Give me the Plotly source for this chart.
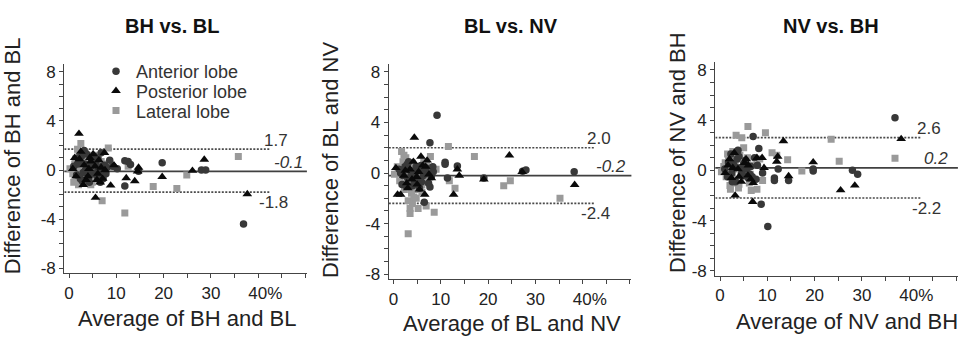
import plotly.graph_objects as go

W, H = 971, 354
FONT = "Liberation Sans, Arial, sans-serif"

# ---------------- data ----------------
titles = ["BH vs. BL", "BL vs. NV", "NV vs. BH"]
xtitles = ["Average of BH and BL", "Average of BL and NV", "Average of NV and BH"]
ytitles = ["Difference of BH and BL", "Difference of BL and NV", "Difference of NV and BH"]
series_names = ["Anterior lobe", "Posterior lobe", "Lateral lobe"]

mean_diff = [-0.1, -0.2, 0.2]
upper_loa = [1.7, 2.0, 2.6]
lower_loa = [-1.8, -2.4, -2.2]

x_tickvals = [0, 10, 20, 30, 40, 50]
x_ticktext = ["0", "10", "20", "30", "\u00a0\u00a0\u00a040%", ""]
x_minorvals = [5, 15, 25, 35, 45]
y_tickvals = [-8, -4, 0, 4, 8]
y_ticktext = ["-8", "-4", "0", "4", "8"]

# Panel 1: BH vs. BL
p1_ant_x = [1.0, 1.6, 2.2, 2.6, 2.8, 3.0, 3.3, 3.5, 3.7, 4.1, 4.3, 4.5, 4.8, 5.0, 5.2, 5.6, 5.8, 6.0, 6.3, 6.6,
            6.8, 7.0, 7.2, 7.5, 8.0, 8.6, 9.3, 10.2, 11.8, 12.5, 13.0, 11.8, 14.7, 19.7, 28.0, 28.9, 36.9,
            1.8, 2.4, 3.2, 3.9, 4.6, 5.4, 6.1, 6.5, 7.8, 2.0]
p1_ant_y = [0.3, -0.4, 0.8, 1.1, -0.9, -0.2, 0.5, 0.0, 1.3, -0.6, -1.0, 0.2, 0.9, 0.4, -0.3, 0.6, -0.2, -0.5, 0.1, -1.0,
            1.4, 0.3, -0.7, 0.4, 0.2, 0.8, 0.3, 0.1, 0.75, 0.7, 0.45, -1.3, -0.1, 0.6, 0.0, 0.0, -4.4,
            0.5, -0.7, 1.6, 0.3, -0.3, 1.1, 0.9, -0.4, -0.3, 1.0]
p1_post_x = [0.8, 1.5, 2.1, 2.2, 2.5, 3.2, 3.6, 4.0, 4.4, 4.6, 5.1, 5.5, 5.6, 6.1, 6.6, 6.8, 7.1, 7.5, 8.8, 9.5,
             12.1, 13.9, 14.5, 14.7, 19.7, 26.1, 28.6, 37.7,
             1.2, 3.0, 4.2, 5.9, 6.3, 7.6]
p1_post_y = [0.1, -0.5, 2.96, 0.9, 1.5, 0.4, -0.8, -0.5, 1.0, 0.7, 1.3, 0.3, -2.25, -0.3, -1.0, 0.2, -0.7, 1.4, -1.25, 0.4,
             -0.65, -0.9, -0.1, 0.2, -0.55, -0.05, 0.85, -1.95,
             1.0, -1.2, 0.1, -0.8, 0.8, 0.0]
p1_lat_x = [0.2, 0.8, 1.0, 1.2, 1.5, 1.8, 2.0, 2.2, 2.3, 2.5, 2.7, 3.0, 3.2, 3.4, 3.5, 3.8, 4.0, 4.3, 4.6, 4.8,
            5.0, 5.3, 5.8, 6.0, 6.2, 6.5, 7.0, 7.5, 8.3, 9.0, 11.8, 12.5, 17.8, 22.8, 24.9, 35.8,
            1.4, 1.9, 2.6, 2.9, 3.6, 4.1, 4.4, 5.5, 5.6, 6.8, 3.1, 2.1, 1.6, 4.9]
p1_lat_y = [0.1, -0.3, -1.0, 0.5, -0.8, 1.7, -1.2, 0.8, 0.3, 2.16, -0.5, 0.9, -1.1, 1.4, 0.2, -0.6, 1.2, -0.2, -1.2, 0.0,
            0.6, -0.7, 0.1, -0.3, 1.2, -0.4, -2.5, 0.5, 1.8, 0.2, -3.5, 0.3, -1.33, -1.5, -0.4, 1.1,
            0.9, -0.4, 0.6, -0.9, 1.0, -0.8, 0.5, 1.0, -0.2, 0.7, 0.1, 1.3, 0.2, -1.0]

# Panel 2: BL vs. NV
p2_ant_x = [1.2, 1.8, 2.0, 2.4, 3.0, 3.2, 3.5, 4.0, 4.4, 4.6, 5.2, 5.5, 5.8, 6.3, 6.5, 6.9, 7.0, 7.4, 7.7, 7.7,
            8.0, 8.4, 9.2, 10.9, 10.9, 11.4, 13.5, 19.1, 27.3, 28.0, 38.2,
            1.5, 2.6, 3.8, 4.8, 5.9, 6.1, 8.3, 2.9]
p2_ant_y = [0.3, -0.9, -0.2, 0.5, -0.4, 0.9, 0.2, -1.0, -0.6, 0.0, -0.5, -1.2, 0.6, -0.2, -2.3, 0.4, 0.0, -0.8, 2.4, -1.1,
            -0.3, 0.1, 4.57, 0.85, 0.7, -0.4, 0.55, -0.4, 0.15, 0.25, 0.1,
            0.0, -1.0, -0.2, 0.5, -0.7, 0.2, 0.5, 0.7]
p2_post_x = [0.5, 0.85, 1.5, 2.2, 2.8, 3.0, 3.5, 4.4, 4.9, 5.0, 5.5, 5.8, 6.2, 6.6, 6.8, 7.1, 7.5, 8.0, 12.7, 13.5,
             13.9, 19.1, 24.5, 27.2, 38.3,
             2.5, 3.9, 4.2, 5.3]
p2_post_y = [0.4, -1.7, -1.7, -0.2, -0.8, -1.2, 0.3, 2.8, -0.3, -0.9, -1.3, 1.3, 0.6, -1.7, 0.5, 1.0, -0.1, -0.4, -1.7, 0.3,
             -0.2, -0.5, 1.4, 0.1, -0.93,
             0.2, -0.5, 0.9, 0.1]
p2_lat_x = [0.2, 0.8, 1.3, 1.5, 1.7, 2.0, 2.3, 2.4, 2.6, 2.9, 3.1, 3.1, 3.3, 3.5, 3.5, 3.8, 4.0, 4.1, 4.4, 4.8,
            5.2, 5.2, 5.6, 6.0, 6.0, 6.4, 6.9, 7.3, 7.8, 8.6, 9.0, 11.6, 11.8, 13.0, 17.1, 23.3, 24.7, 35.2,
            1.0, 1.9, 2.7, 3.4, 3.9, 4.6, 5.4, 6.6, 7.0, 2.2, 4.3]
p2_lat_y = [-0.1, 0.5, -0.6, 0.0, 1.7, 0.9, -1.3, -0.8, 1.2, -0.4, -2.2, -4.8, 0.2, -2.8, -3.2, -1.6, -2.4, 0.6, -1.0, -2.0,
            -2.8, -0.3, 0.4, -1.5, -0.9, 0.9, -2.6, 0.1, 1.3, -3.1, 0.3, 2.1, -0.6, -1.2, 1.3, -1.0, -0.6, -2.0,
            0.2, -0.2, 0.4, -0.6, 0.8, -1.3, 0.2, -0.5, 0.6, 1.4, -1.9]

# Panel 3: NV vs. BH
p3_ant_x = [1.0, 1.6, 2.3, 2.5, 2.8, 3.3, 3.6, 3.8, 4.3, 4.9, 5.0, 5.4, 6.0, 6.3, 6.5, 7.0, 7.3, 7.6, 8.2, 8.7,
            9.0, 10.1, 11.5, 11.5, 12.3, 14.5, 19.7, 19.7, 28.0, 29.1, 37.0,
            1.8, 2.6, 3.1, 4.0, 4.6, 5.7, 6.8, 7.9]
p3_ant_y = [0.1, -0.5, 1.3, -0.2, 0.5, -0.9, 0.9, 1.6, 0.2, -0.4, 0.5, 0.8, -0.6, -0.3, 0.3, 2.7, 1.0, -0.7, 1.74, -2.7,
            -0.2, -4.46, -0.6, -0.8, 0.1, -0.8, 0.1, -0.05, 0.0, -0.3, 4.2,
            0.6, -0.9, 0.3, 1.1, -0.2, 0.1, -0.5, 0.4]
p3_post_x = [1.1, 1.7, 2.0, 2.4, 3.0, 3.2, 3.8, 4.5, 5.2, 5.9, 6.0, 6.9, 7.0, 7.8, 8.9, 9.3, 12.0, 12.2, 13.4, 14.5,
             19.7, 25.5, 28.5, 38.3,
             2.7, 4.0, 5.5, 6.5]
p3_post_y = [-0.2, 0.4, 0.9, -0.6, 1.4, -2.0, 0.1, -0.9, 0.6, -0.4, 0.4, -2.5, -1.0, 1.0, 1.0, 0.2, 0.7, 1.1, 2.33, -0.45,
             0.65, -1.58, -1.2, 2.5,
             0.2, -0.5, 0.9, -0.7]
p3_lat_x = [0.3, 0.8, 1.3, 1.6, 1.8, 2.0, 2.1, 2.4, 2.6, 2.7, 3.0, 3.2, 3.4, 3.6, 3.9, 4.0, 4.2, 4.6, 4.9, 5.0,
            5.3, 5.6, 5.9, 6.2, 6.7, 6.6, 7.8, 8.4, 9.0, 9.6, 11.0, 12.0, 14.3, 17.3, 23.5, 25.2, 37.0,
            1.1, 1.9, 2.3, 2.9, 3.3, 3.8, 4.4, 5.2, 5.8, 6.4, 2.2]
p3_lat_y = [-0.1, 0.3, -0.5, 1.3, 1.0, 0.0, -1.2, 0.6, -0.6, 1.5, -0.8, 0.5, 2.8, 0.2, -1.4, -1.1, 1.2, 2.6, -0.3, 1.8,
            0.7, -0.5, 3.5, -1.0, 0.4, -1.6, -1.5, 0.9, -0.8, 3.0, 1.4, 1.2, 0.85, -0.05, 2.47, 0.73, 0.96,
            0.6, -0.5, 1.1, 0.1, -1.0, 0.9, -0.4, 0.2, 1.0, -0.3, -1.5]

panels = [
    [(p1_ant_x, p1_ant_y), (p1_post_x, p1_post_y), (p1_lat_x, p1_lat_y)],
    [(p2_ant_x, p2_ant_y), (p2_post_x, p2_post_y), (p2_lat_x, p2_lat_y)],
    [(p3_ant_x, p3_ant_y), (p3_post_x, p3_post_y), (p3_lat_x, p3_lat_y)],
]

# ---------------- styling / layout ----------------
def fx(px):
    return px / W

def fy(py):
    return 1 - py / H

X_RANGE = [-1.0, 50.3]
Y_RANGE = [-8.4, 8.65]
LOA_END = 42.5
x_dom_px = [(64.3, 306.9), (388.8, 631.4), (715.3, 957.9)]
y_dom_px = [(63.9, 276.9), (63.7, 283.1), (61.8, 279.6)]
title_pos = [(171.7, 25.3), (510.8, 25.3), (830.8, 25.3)]
xtitle_pos = [(187.0, 322.5), (511.5, 328.5), (847.0, 326.0)]
ytitle_pos = [(12.5, 157.5), (331.0, 161.7), (677.5, 154.0)]
label_x = [(46.7, 49.9, 46.7), (46.4, 49.6, 46.2), (47.1, 48.6, 47.1)]

marker_styles = [
    dict(symbol="circle", size=7.5, color="#383838"),
    dict(symbol="triangle-up", size=8.5, color="#0a0a0a"),
    dict(symbol="square", size=7, color="#9a9a9a"),
]
draw_order = [2, 0, 1]
legend_ids = ["legend", "legend2", "legend3"]
legend_rows_py = [71.7, 91.7, 111.7]
AXIS_COLOR = "#444444"
TEXT_COLOR = "#222222"

fig = go.Figure()

for p in range(3):
    sfx = "" if p == 0 else str(p + 1)
    for s in draw_order:
        xs, ys = panels[p][s]
        fig.add_trace(go.Scatter(
            x=xs, y=ys, mode="markers", name=series_names[s],
            marker=dict(symbol=marker_styles[s]["symbol"], size=marker_styles[s]["size"],
                        color=marker_styles[s]["color"], line=dict(width=0)),
            xaxis="x" + sfx, yaxis="y" + sfx,
            showlegend=(p == 0), legend=legend_ids[s],
        ))

layout = dict(
    width=W, height=H, margin=dict(l=0, r=0, t=0, b=0),
    paper_bgcolor="white", plot_bgcolor="white",
    font=dict(family=FONT, color=TEXT_COLOR),
    shapes=[], annotations=[],
)

for p in range(3):
    sfx = "" if p == 0 else str(p + 1)
    x0, x1 = x_dom_px[p]
    yt, yb = y_dom_px[p]
    layout["xaxis" + sfx] = dict(
        domain=[fx(x0), fx(x1)], range=X_RANGE, anchor="y" + sfx,
        showgrid=False, zeroline=False, showline=True, linecolor=AXIS_COLOR, linewidth=1.3,
        tickmode="array", tickvals=x_tickvals, ticktext=x_ticktext,
        ticks="outside", ticklen=4, tickwidth=1.1, tickcolor=AXIS_COLOR,
        tickfont=dict(size=17, color=TEXT_COLOR, family=FONT),
        minor=dict(tickmode="array", tickvals=x_minorvals, ticks="outside", ticklen=4,
                   tickwidth=1.1, tickcolor=AXIS_COLOR, showgrid=False),
        fixedrange=True,
    )
    layout["yaxis" + sfx] = dict(
        domain=[fy(yb), fy(yt)], range=Y_RANGE, anchor="x" + sfx,
        showgrid=False, zeroline=False, showline=True, linecolor=AXIS_COLOR, linewidth=1.3,
        tickmode="array", tickvals=y_tickvals, ticktext=y_ticktext,
        ticks="outside", ticklen=4, tickwidth=1.1, tickcolor=AXIS_COLOR,
        tickfont=dict(size=17, color=TEXT_COLOR, family=FONT),
        minor=dict(tickmode="linear", tick0=0, dtick=1, ticks="outside", ticklen=4,
                   tickwidth=1.1, tickcolor=AXIS_COLOR, showgrid=False),
        fixedrange=True,
    )
    xr, yr = "x" + sfx, "y" + sfx
    # mean line (full width) and limits of agreement
    layout["shapes"].append(dict(type="line", xref=xr + " domain", yref=yr, x0=0, x1=1,
                                 y0=mean_diff[p], y1=mean_diff[p], layer="below",
                                 line=dict(color="#404040", width=1.7)))
    for v in (upper_loa[p], lower_loa[p]):
        layout["shapes"].append(dict(type="line", xref=xr, yref=yr, x0=X_RANGE[0], x1=LOA_END,
                                     y0=v, y1=v, layer="below",
                                     line=dict(color="#4a4a4a", width=1.7, dash="2px,1.5px")))
    lx_up, lx_mean, lx_low = label_x[p]
    layout["annotations"] += [
        dict(xref=xr, yref=yr, x=lx_up, y=upper_loa[p], yshift=9, xanchor="right", yanchor="middle",
             text=f"{upper_loa[p]:.1f}", showarrow=False, font=dict(size=17, color="#333333")),
        dict(xref=xr, yref=yr, x=lx_mean, y=mean_diff[p], yshift=9, xanchor="right", yanchor="middle",
             text=f"<i>{mean_diff[p]:.1f}</i>", showarrow=False, font=dict(size=17, color="#333333")),
        dict(xref=xr, yref=yr, x=lx_low, y=lower_loa[p], yshift=-10, xanchor="right", yanchor="middle",
             text=f"{lower_loa[p]:.1f}", showarrow=False, font=dict(size=17, color="#333333")),
    ]
    tx, ty = title_pos[p]
    layout["annotations"].append(dict(xref="paper", yref="paper", x=fx(tx), y=fy(ty),
                                      xanchor="center", yanchor="middle", showarrow=False,
                                      text=f"<b>{titles[p]}</b>",
                                      font=dict(size=20, color="#111111", family=FONT)))
    ax_, ay_ = xtitle_pos[p]
    layout["annotations"].append(dict(xref="paper", yref="paper", x=fx(ax_), y=fy(ay_),
                                      xanchor="center", yanchor="middle", showarrow=False,
                                      text=xtitles[p], font=dict(size=22, color=TEXT_COLOR, family=FONT)))
    bx, by = ytitle_pos[p]
    layout["annotations"].append(dict(xref="paper", yref="paper", x=fx(bx), y=fy(by),
                                      xanchor="center", yanchor="middle", showarrow=False,
                                      textangle=-90,
                                      text=ytitles[p], font=dict(size=22, color=TEXT_COLOR, family=FONT)))

for i, lid in enumerate(legend_ids):
    layout[lid] = dict(x=fx(96), xanchor="left", y=fy(legend_rows_py[i]), yanchor="middle",
                       bgcolor="rgba(0,0,0,0)", borderwidth=0,
                       font=dict(size=18, color="#333333", family=FONT))

fig.update_layout(**layout)
fig.write_html("out.html")
